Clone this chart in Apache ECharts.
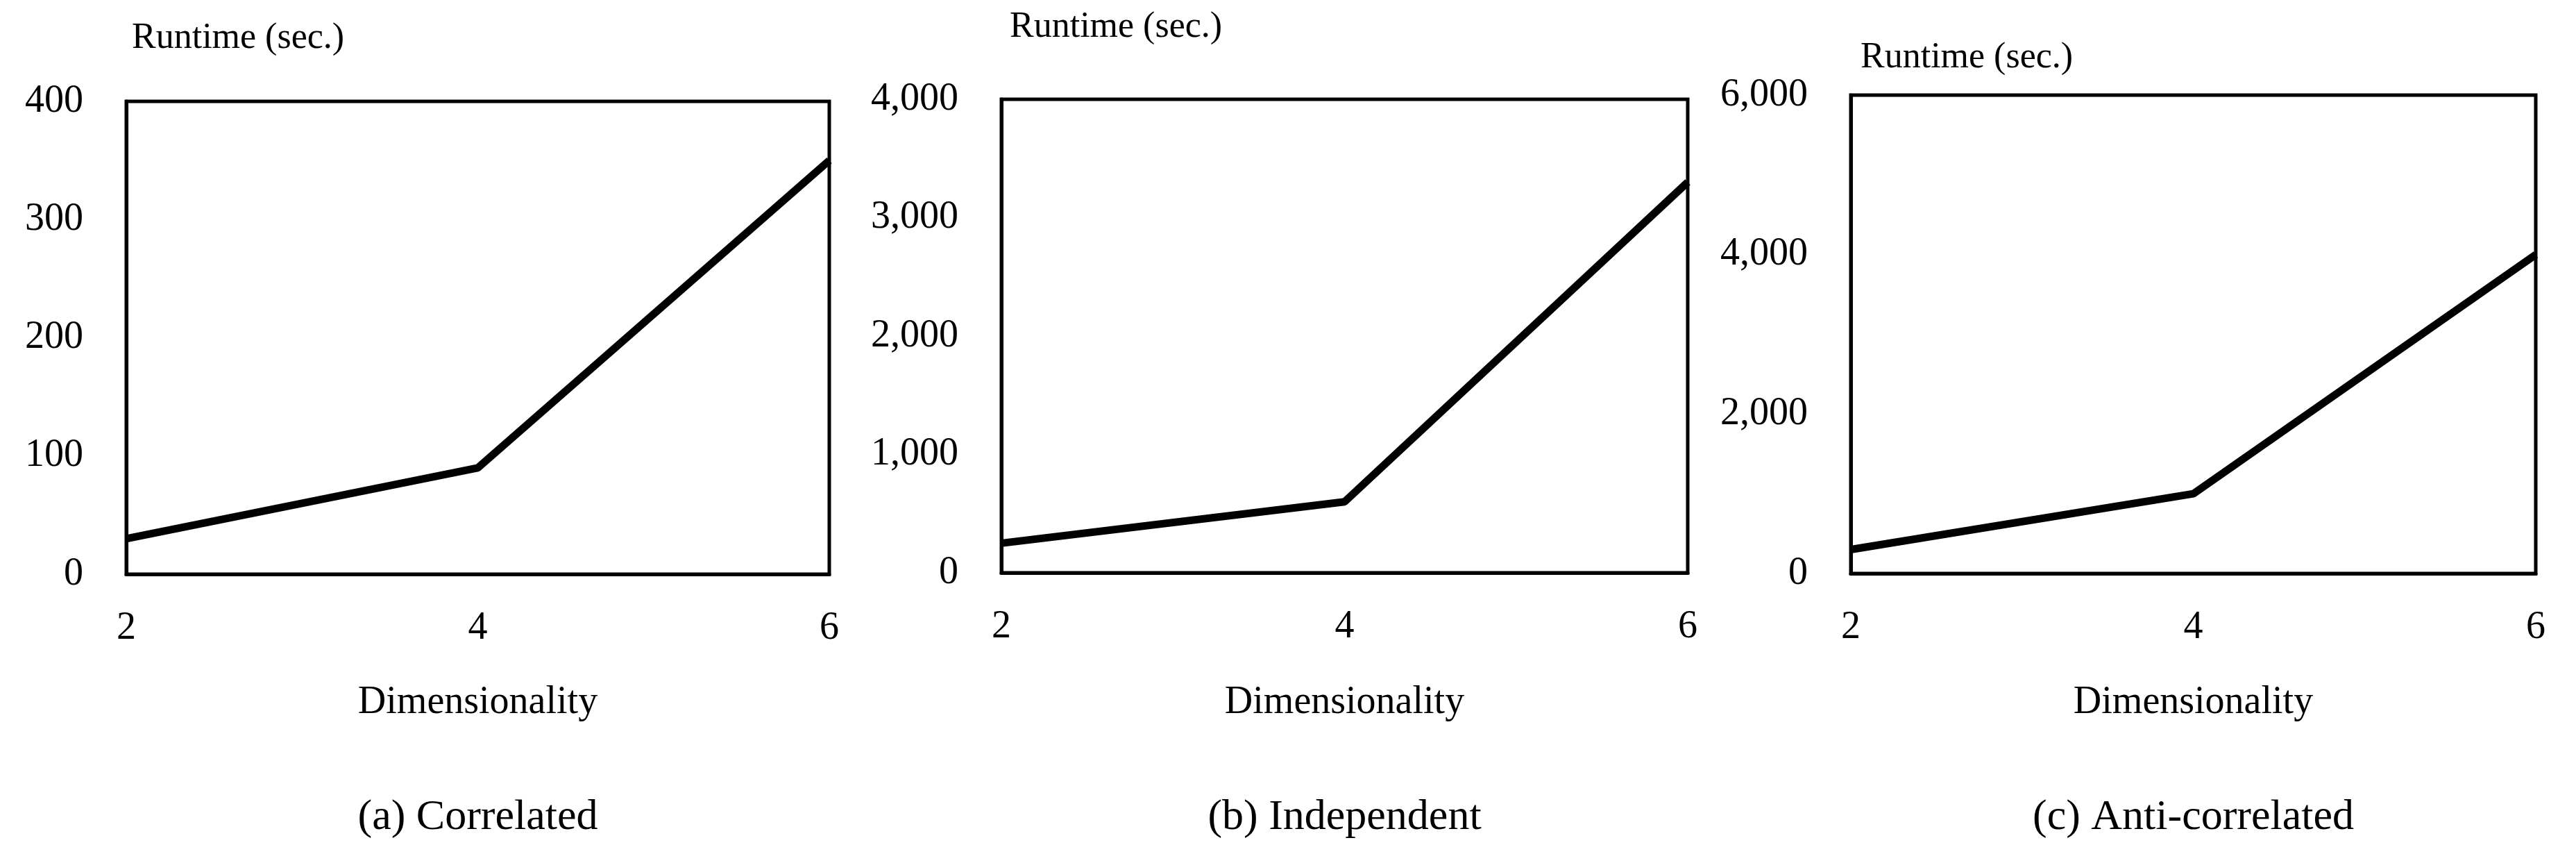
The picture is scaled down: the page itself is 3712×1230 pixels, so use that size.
<!DOCTYPE html>
<html><head><meta charset="utf-8">
<script src="https://cdn.jsdelivr.net/npm/echarts@6/dist/echarts.min.js"></script>
<style>html,body{margin:0;padding:0;background:#fff}#c{width:3712px;height:1230px}</style>
</head><body><div id="c"></div>
<script>
const dims = [2, 4, 6];
const correlated = [30, 90, 350];
const independent = [250, 600, 3300];
const anticorrelated = [300, 1000, 4000];
const yMax = [400, 4000, 6000];
const yInterval = [100, 1000, 2000];
const captions = ['(a) Correlated', '(b) Independent', '(c) Anti-correlated'];
const yTitle = 'Runtime (sec.)';
const xTitle = 'Dimensionality';

const F = 'Liberation Serif, Times New Roman, serif';
const grids = [
  {left: 182, width: 1013, top: 146, height: 681},
  {left: 1443, width: 989, top: 143, height: 682},
  {left: 2667, width: 987, top: 137, height: 689}
];
const yTitlePos = [[190, 59], [1455, 43], [2681, 87]];
const seriesData = [correlated, independent, anticorrelated];

const option = {
  backgroundColor: '#fff',
  animation: false,
  grid: grids.map(g => Object.assign({show: true, borderColor: '#000', borderWidth: 5, backgroundColor: 'transparent'}, g)),
  xAxis: grids.map((g, i) => ({
    type: 'value', gridIndex: i, min: 2, max: 6, interval: 2,
    axisLine: {show: true, lineStyle: {color: '#000', width: 5}},
    axisTick: {show: false}, splitLine: {show: false},
    axisLabel: {color: '#000', fontFamily: F, fontSize: 56, margin: 50}
  })),
  yAxis: grids.map((g, i) => ({
    type: 'value', gridIndex: i, min: 0, max: yMax[i], interval: yInterval[i],
    axisLine: {show: true, lineStyle: {color: '#000', width: 5}},
    axisTick: {show: false}, splitLine: {show: false},
    axisLabel: {color: '#000', fontFamily: F, fontSize: 56, margin: 62}
  })),
  series: seriesData.map((d, i) => ({
    type: 'line', xAxisIndex: i, yAxisIndex: i,
    data: dims.map((x, j) => [x, d[j]]),
    symbol: 'none', lineStyle: {color: '#000', width: 11}
  })),
  graphic: [].concat(
    grids.map((g, i) => ({type: 'text', left: yTitlePos[i][0], top: yTitlePos[i][1] - 30,
      style: {text: yTitle, font: '52px ' + F, fill: '#000'}})),
    grids.map((g, i) => ({type: 'text', x: g.left + g.width / 2, y: 1012,
      style: {text: xTitle, font: '56px ' + F, fill: '#000', align: 'center', verticalAlign: 'middle'}})),
    grids.map((g, i) => ({type: 'text', x: g.left + g.width / 2, y: 1178,
      style: {text: captions[i], font: '62px ' + F, fill: '#000', align: 'center', verticalAlign: 'middle'}}))
  )
};
echarts.init(document.getElementById('c')).setOption(option);
</script></body></html>
